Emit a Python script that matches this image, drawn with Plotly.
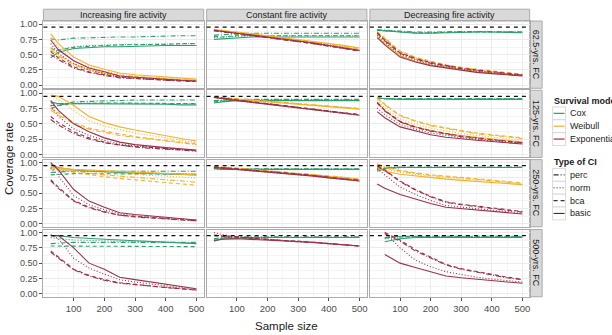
import plotly.graph_objects as go

W, H = 612, 335
FONT = "Liberation Sans"

SAMPLE_SIZE = [25, 50, 100, 150, 200, 250, 300, 350, 400, 450, 500]
NOMINAL = 0.95
TRENDS = ["Increasing fire activity", "Constant fire activity", "Decreasing fire activity"]
CYCLES = ["62.5-yrs. FC", "125-yrs. FC", "250-yrs. FC", "500-yrs. FC"]
MODELS = ["Cox", "Weibull", "Exponential"]
CI_TYPES = ["perc", "norm", "bca", "basic"]
Y_TICKS = [0, 0.25, 0.5, 0.75, 1.0]
X_TICKS = [100, 200, 300, 400, 500]

# ---------------- coverage rates ----------------
# 62.5-yrs FC
INC_62_COX = {"perc": [0.76, 0.74, 0.77, 0.78, 0.79, 0.79, 0.79, 0.80, 0.80, 0.81, 0.81],
              "norm": [0.55, 0.58, 0.63, 0.65, 0.66, 0.66, 0.67, 0.67, 0.67, 0.68, 0.68],
              "bca": [0.60, 0.57, 0.62, 0.64, 0.65, 0.66, 0.66, 0.67, 0.67, 0.68, 0.68],
              "basic": [0.45, 0.54, 0.60, 0.62, 0.63, 0.63, 0.64, 0.64, 0.65, 0.65, 0.65]}
INC_62_WEI = {"perc": [0.58, 0.48, 0.33, 0.25, 0.19, 0.15, 0.13, 0.11, 0.10, 0.09, 0.08],
              "norm": [0.78, 0.62, 0.40, 0.30, 0.23, 0.18, 0.15, 0.13, 0.12, 0.10, 0.09],
              "bca": [0.62, 0.50, 0.35, 0.26, 0.20, 0.16, 0.14, 0.12, 0.10, 0.09, 0.08],
              "basic": [0.84, 0.68, 0.46, 0.33, 0.26, 0.20, 0.17, 0.15, 0.13, 0.11, 0.10]}
INC_62_EXP = {"perc": [0.50, 0.42, 0.28, 0.21, 0.16, 0.12, 0.11, 0.09, 0.08, 0.07, 0.06],
              "norm": [0.68, 0.52, 0.35, 0.25, 0.19, 0.14, 0.12, 0.10, 0.09, 0.08, 0.07],
              "bca": [0.55, 0.45, 0.30, 0.22, 0.17, 0.13, 0.11, 0.10, 0.08, 0.07, 0.06],
              "basic": [0.74, 0.58, 0.40, 0.28, 0.22, 0.15, 0.13, 0.11, 0.10, 0.08, 0.07]}
CON_62_COX = {"perc": [0.82, 0.83, 0.84, 0.85, 0.85, 0.85, 0.85, 0.85, 0.85, 0.85, 0.85],
              "norm": [0.78, 0.79, 0.80, 0.81, 0.81, 0.81, 0.81, 0.81, 0.81, 0.81, 0.81],
              "bca": [0.80, 0.79, 0.81, 0.81, 0.81, 0.81, 0.81, 0.81, 0.81, 0.81, 0.81],
              "basic": [0.75, 0.76, 0.78, 0.79, 0.79, 0.79, 0.79, 0.79, 0.79, 0.79, 0.79]}
CON_62_WEI = {"perc": [0.90, 0.89, 0.86, 0.83, 0.80, 0.77, 0.74, 0.71, 0.68, 0.64, 0.60],
              "norm": [0.90, 0.89, 0.87, 0.84, 0.81, 0.78, 0.75, 0.72, 0.69, 0.65, 0.61],
              "bca": [0.91, 0.90, 0.86, 0.83, 0.80, 0.77, 0.74, 0.71, 0.67, 0.63, 0.59],
              "basic": [0.91, 0.90, 0.87, 0.84, 0.81, 0.78, 0.75, 0.72, 0.69, 0.65, 0.61]}
CON_62_EXP = {"perc": [0.89, 0.87, 0.84, 0.81, 0.78, 0.75, 0.71, 0.68, 0.64, 0.60, 0.56],
              "norm": [0.90, 0.88, 0.85, 0.82, 0.79, 0.76, 0.72, 0.69, 0.65, 0.61, 0.57],
              "bca": [0.90, 0.88, 0.84, 0.81, 0.78, 0.75, 0.71, 0.68, 0.64, 0.60, 0.56],
              "basic": [0.90, 0.88, 0.85, 0.82, 0.79, 0.76, 0.72, 0.69, 0.65, 0.61, 0.57]}
DEC_62_COX = {"perc": [0.91, 0.90, 0.88, 0.87, 0.87, 0.88, 0.88, 0.88, 0.88, 0.88, 0.87],
              "norm": [0.90, 0.89, 0.87, 0.86, 0.86, 0.87, 0.87, 0.87, 0.87, 0.87, 0.87],
              "bca": [0.90, 0.89, 0.87, 0.86, 0.86, 0.87, 0.87, 0.87, 0.87, 0.87, 0.87],
              "basic": [0.90, 0.89, 0.87, 0.85, 0.85, 0.86, 0.87, 0.87, 0.87, 0.87, 0.86]}
DEC_62_WEI = {"perc": [0.87, 0.76, 0.55, 0.45, 0.38, 0.33, 0.29, 0.25, 0.22, 0.20, 0.17],
              "norm": [0.84, 0.72, 0.52, 0.43, 0.36, 0.31, 0.27, 0.24, 0.21, 0.19, 0.17],
              "bca": [0.88, 0.77, 0.56, 0.46, 0.39, 0.33, 0.29, 0.26, 0.23, 0.20, 0.18],
              "basic": [0.80, 0.68, 0.48, 0.39, 0.33, 0.29, 0.25, 0.22, 0.20, 0.18, 0.16]}
DEC_62_EXP = {"perc": [0.85, 0.73, 0.52, 0.43, 0.36, 0.31, 0.27, 0.24, 0.21, 0.19, 0.16],
              "norm": [0.82, 0.70, 0.50, 0.41, 0.34, 0.30, 0.26, 0.23, 0.20, 0.18, 0.16],
              "bca": [0.86, 0.74, 0.53, 0.44, 0.37, 0.32, 0.28, 0.25, 0.22, 0.19, 0.17],
              "basic": [0.78, 0.66, 0.46, 0.38, 0.32, 0.28, 0.24, 0.21, 0.19, 0.17, 0.15]}
# 125-yrs FC
INC_125_COX = {"perc": [0.75, 0.80, 0.86, 0.87, 0.88, 0.88, 0.89, 0.89, 0.89, 0.89, 0.89],
               "norm": [0.83, 0.82, 0.84, 0.84, 0.84, 0.84, 0.84, 0.84, 0.84, 0.83, 0.83],
               "bca": [0.80, 0.80, 0.83, 0.84, 0.84, 0.84, 0.84, 0.84, 0.84, 0.83, 0.83],
               "basic": [0.86, 0.83, 0.83, 0.83, 0.83, 0.82, 0.82, 0.82, 0.82, 0.81, 0.81]}
INC_125_WEI = {"perc": [0.72, 0.65, 0.50, 0.41, 0.36, 0.31, 0.28, 0.25, 0.22, 0.19, 0.16],
               "norm": [0.95, 0.90, 0.72, 0.55, 0.46, 0.40, 0.35, 0.31, 0.27, 0.23, 0.19],
               "bca": [0.75, 0.68, 0.52, 0.43, 0.38, 0.33, 0.29, 0.26, 0.23, 0.20, 0.17],
               "basic": [0.97, 0.95, 0.80, 0.62, 0.52, 0.45, 0.40, 0.35, 0.30, 0.26, 0.22]}
INC_125_EXP = {"perc": [0.57, 0.48, 0.34, 0.25, 0.19, 0.15, 0.12, 0.10, 0.09, 0.07, 0.05],
               "norm": [0.80, 0.62, 0.42, 0.31, 0.23, 0.17, 0.14, 0.12, 0.10, 0.08, 0.06],
               "bca": [0.62, 0.52, 0.37, 0.27, 0.20, 0.15, 0.13, 0.11, 0.09, 0.07, 0.06],
               "basic": [0.88, 0.72, 0.50, 0.37, 0.27, 0.20, 0.16, 0.13, 0.11, 0.09, 0.07]}
CON_125_COX = {"perc": [0.88, 0.89, 0.90, 0.90, 0.90, 0.90, 0.90, 0.90, 0.90, 0.90, 0.90],
               "norm": [0.87, 0.88, 0.89, 0.89, 0.89, 0.89, 0.89, 0.89, 0.89, 0.89, 0.89],
               "bca": [0.86, 0.87, 0.89, 0.89, 0.89, 0.89, 0.89, 0.89, 0.89, 0.89, 0.89],
               "basic": [0.84, 0.86, 0.88, 0.88, 0.88, 0.88, 0.88, 0.88, 0.88, 0.88, 0.88]}
CON_125_WEI = {"perc": [0.94, 0.93, 0.91, 0.89, 0.87, 0.85, 0.83, 0.81, 0.79, 0.77, 0.75],
               "norm": [0.93, 0.92, 0.90, 0.88, 0.86, 0.84, 0.82, 0.80, 0.78, 0.76, 0.74],
               "bca": [0.94, 0.93, 0.91, 0.89, 0.87, 0.85, 0.83, 0.81, 0.79, 0.77, 0.75],
               "basic": [0.93, 0.92, 0.90, 0.88, 0.86, 0.84, 0.82, 0.80, 0.78, 0.76, 0.74]}
CON_125_EXP = {"perc": [0.94, 0.92, 0.89, 0.86, 0.83, 0.80, 0.77, 0.74, 0.71, 0.68, 0.65],
               "norm": [0.93, 0.91, 0.88, 0.85, 0.82, 0.79, 0.76, 0.73, 0.70, 0.67, 0.64],
               "bca": [0.94, 0.92, 0.89, 0.86, 0.83, 0.80, 0.77, 0.74, 0.71, 0.68, 0.65],
               "basic": [0.93, 0.91, 0.88, 0.85, 0.82, 0.79, 0.76, 0.73, 0.70, 0.67, 0.64]}
DEC_125_COX = {"perc": [0.92, 0.91, 0.91, 0.91, 0.91, 0.91, 0.91, 0.91, 0.91, 0.91, 0.91],
               "norm": [0.92, 0.91, 0.90, 0.90, 0.90, 0.90, 0.90, 0.90, 0.90, 0.90, 0.90],
               "bca": [0.92, 0.91, 0.91, 0.91, 0.91, 0.91, 0.91, 0.91, 0.91, 0.91, 0.91],
               "basic": [0.93, 0.91, 0.90, 0.90, 0.90, 0.90, 0.90, 0.90, 0.90, 0.90, 0.90]}
DEC_125_WEI = {"perc": [0.92, 0.81, 0.63, 0.54, 0.47, 0.42, 0.38, 0.34, 0.31, 0.28, 0.26],
               "norm": [0.90, 0.76, 0.58, 0.49, 0.43, 0.38, 0.34, 0.31, 0.28, 0.25, 0.23],
               "bca": [0.93, 0.82, 0.64, 0.55, 0.48, 0.43, 0.39, 0.35, 0.32, 0.29, 0.27],
               "basic": [0.86, 0.72, 0.53, 0.45, 0.39, 0.34, 0.31, 0.28, 0.25, 0.22, 0.20]}
DEC_125_EXP = {"perc": [0.84, 0.71, 0.53, 0.44, 0.38, 0.33, 0.29, 0.26, 0.23, 0.21, 0.19],
               "norm": [0.76, 0.65, 0.49, 0.41, 0.35, 0.31, 0.27, 0.24, 0.22, 0.20, 0.18],
               "bca": [0.85, 0.72, 0.54, 0.45, 0.39, 0.34, 0.30, 0.27, 0.24, 0.22, 0.19],
               "basic": [0.70, 0.60, 0.45, 0.38, 0.32, 0.28, 0.25, 0.23, 0.21, 0.19, 0.17]}
# 250-yrs FC
INC_250_COX = {"perc": [0.84, 0.85, 0.86, 0.86, 0.86, 0.86, 0.86, 0.86, 0.86, 0.86, 0.86],
               "norm": [0.90, 0.88, 0.86, 0.85, 0.84, 0.84, 0.83, 0.83, 0.82, 0.82, 0.82],
               "bca": [0.80, 0.81, 0.82, 0.82, 0.82, 0.82, 0.82, 0.82, 0.82, 0.81, 0.81],
               "basic": [0.97, 0.92, 0.88, 0.86, 0.85, 0.84, 0.83, 0.82, 0.81, 0.81, 0.80]}
INC_250_WEI = {"perc": [0.92, 0.90, 0.86, 0.83, 0.80, 0.78, 0.76, 0.74, 0.72, 0.70, 0.68],
               "norm": [0.95, 0.92, 0.88, 0.86, 0.84, 0.82, 0.80, 0.79, 0.78, 0.77, 0.75],
               "bca": [0.90, 0.88, 0.84, 0.80, 0.77, 0.74, 0.72, 0.70, 0.68, 0.66, 0.63],
               "basic": [0.93, 0.91, 0.89, 0.88, 0.87, 0.86, 0.85, 0.84, 0.83, 0.82, 0.80]}
INC_250_EXP = {"perc": [0.70, 0.58, 0.37, 0.26, 0.19, 0.14, 0.11, 0.10, 0.08, 0.06, 0.05],
               "norm": [0.92, 0.78, 0.46, 0.31, 0.23, 0.16, 0.13, 0.11, 0.09, 0.08, 0.06],
               "bca": [0.72, 0.60, 0.38, 0.27, 0.20, 0.14, 0.12, 0.10, 0.08, 0.07, 0.05],
               "basic": [1.00, 0.88, 0.56, 0.37, 0.27, 0.18, 0.15, 0.13, 0.11, 0.09, 0.06]}
CON_250_COX = {"perc": [0.91, 0.90, 0.90, 0.90, 0.90, 0.90, 0.90, 0.90, 0.90, 0.90, 0.90],
               "norm": [0.90, 0.89, 0.89, 0.89, 0.89, 0.89, 0.89, 0.89, 0.89, 0.89, 0.89],
               "bca": [0.91, 0.90, 0.89, 0.89, 0.89, 0.89, 0.89, 0.89, 0.89, 0.89, 0.89],
               "basic": [0.90, 0.89, 0.89, 0.89, 0.89, 0.89, 0.89, 0.89, 0.89, 0.89, 0.89]}
CON_250_WEI = {"perc": [0.94, 0.93, 0.91, 0.89, 0.87, 0.85, 0.83, 0.81, 0.78, 0.76, 0.73],
               "norm": [0.93, 0.92, 0.90, 0.88, 0.86, 0.84, 0.82, 0.80, 0.77, 0.75, 0.72],
               "bca": [0.95, 0.93, 0.91, 0.89, 0.87, 0.85, 0.83, 0.81, 0.78, 0.76, 0.73],
               "basic": [0.93, 0.92, 0.90, 0.88, 0.86, 0.84, 0.82, 0.80, 0.77, 0.75, 0.72]}
CON_250_EXP = {"perc": [0.93, 0.92, 0.90, 0.88, 0.86, 0.84, 0.81, 0.79, 0.76, 0.74, 0.71],
               "norm": [0.92, 0.91, 0.89, 0.87, 0.85, 0.83, 0.80, 0.78, 0.75, 0.73, 0.70],
               "bca": [0.93, 0.92, 0.90, 0.88, 0.86, 0.84, 0.81, 0.79, 0.76, 0.74, 0.71],
               "basic": [0.92, 0.91, 0.89, 0.87, 0.85, 0.83, 0.80, 0.78, 0.75, 0.73, 0.70]}
DEC_250_COX = {"perc": [0.90, 0.92, 0.93, 0.93, 0.93, 0.93, 0.93, 0.93, 0.93, 0.93, 0.93],
               "norm": [0.88, 0.91, 0.92, 0.92, 0.92, 0.92, 0.92, 0.92, 0.92, 0.92, 0.92],
               "bca": [0.89, 0.91, 0.92, 0.92, 0.92, 0.92, 0.92, 0.92, 0.92, 0.92, 0.92],
               "basic": [0.86, 0.90, 0.92, 0.92, 0.92, 0.92, 0.92, 0.92, 0.92, 0.92, 0.92]}
DEC_250_WEI = {"perc": [0.97, 0.92, 0.86, 0.82, 0.79, 0.77, 0.75, 0.73, 0.71, 0.69, 0.66],
               "norm": [0.95, 0.89, 0.84, 0.80, 0.77, 0.75, 0.73, 0.71, 0.69, 0.67, 0.65],
               "bca": [0.98, 0.93, 0.87, 0.83, 0.80, 0.78, 0.76, 0.74, 0.72, 0.70, 0.67],
               "basic": [0.92, 0.86, 0.81, 0.78, 0.75, 0.73, 0.71, 0.69, 0.67, 0.66, 0.64]}
DEC_250_EXP = {"perc": [0.94, 0.87, 0.69, 0.55, 0.44, 0.35, 0.31, 0.28, 0.25, 0.22, 0.19],
               "norm": [0.90, 0.80, 0.60, 0.48, 0.38, 0.30, 0.27, 0.25, 0.22, 0.20, 0.17],
               "bca": [0.95, 0.88, 0.70, 0.56, 0.45, 0.36, 0.32, 0.29, 0.26, 0.23, 0.20],
               "basic": [0.65, 0.58, 0.48, 0.40, 0.33, 0.27, 0.25, 0.23, 0.21, 0.19, 0.16]}
# 500-yrs FC (no Weibull curves visible)
INC_500_COX = {"perc": [0.82, 0.83, 0.84, 0.84, 0.84, 0.84, 0.84, 0.84, 0.84, 0.84, 0.84],
               "norm": [0.92, 0.90, 0.88, 0.87, 0.86, 0.86, 0.85, 0.85, 0.84, 0.84, 0.83],
               "bca": [0.78, 0.78, 0.78, 0.78, 0.78, 0.78, 0.78, 0.78, 0.78, 0.77, 0.77],
               "basic": [0.95, 0.95, 0.92, 0.90, 0.89, 0.88, 0.87, 0.86, 0.85, 0.84, 0.82]}
INC_500_EXP = {"perc": [0.68, 0.58, 0.39, 0.29, 0.22, 0.17, 0.15, 0.12, 0.10, 0.08, 0.06],
               "norm": [0.97, 0.90, 0.58, 0.42, 0.32, 0.23, 0.19, 0.16, 0.13, 0.10, 0.07],
               "bca": [0.70, 0.60, 0.40, 0.30, 0.23, 0.18, 0.15, 0.13, 0.10, 0.08, 0.06],
               "basic": [0.95, 0.95, 0.75, 0.50, 0.40, 0.27, 0.23, 0.19, 0.15, 0.12, 0.08]}
CON_500_COX = {"perc": [0.90, 0.92, 0.93, 0.93, 0.93, 0.93, 0.93, 0.93, 0.93, 0.93, 0.93],
               "norm": [0.88, 0.91, 0.92, 0.92, 0.92, 0.92, 0.92, 0.92, 0.92, 0.92, 0.92],
               "bca": [0.89, 0.91, 0.92, 0.92, 0.92, 0.92, 0.92, 0.92, 0.92, 0.92, 0.92],
               "basic": [0.86, 0.89, 0.91, 0.92, 0.92, 0.92, 0.92, 0.92, 0.92, 0.92, 0.92]}
CON_500_EXP = {"perc": [0.96, 0.95, 0.92, 0.90, 0.89, 0.87, 0.85, 0.84, 0.82, 0.80, 0.78],
               "norm": [1.00, 0.97, 0.93, 0.91, 0.89, 0.87, 0.86, 0.84, 0.82, 0.80, 0.78],
               "bca": [0.95, 0.94, 0.92, 0.90, 0.89, 0.87, 0.86, 0.84, 0.82, 0.80, 0.78],
               "basic": [0.87, 0.89, 0.90, 0.89, 0.88, 0.87, 0.85, 0.84, 0.82, 0.80, 0.78]}
DEC_500_COX = {"perc": [None, 0.92, 0.94, 0.94, 0.94, 0.94, 0.94, 0.94, 0.94, 0.94, 0.94],
               "norm": [None, 0.90, 0.93, 0.93, 0.93, 0.93, 0.93, 0.93, 0.93, 0.93, 0.93],
               "bca": [None, 0.91, 0.93, 0.93, 0.93, 0.93, 0.93, 0.93, 0.93, 0.93, 0.93],
               "basic": [None, 0.85, 0.90, 0.92, 0.92, 0.92, 0.92, 0.92, 0.92, 0.92, 0.92]}
DEC_500_EXP = {"perc": [None, 0.98, 0.86, 0.70, 0.58, 0.47, 0.40, 0.35, 0.30, 0.26, 0.23],
               "norm": [None, 1.00, 0.75, 0.55, 0.44, 0.36, 0.31, 0.27, 0.24, 0.21, 0.19],
               "bca": [None, 1.00, 0.88, 0.72, 0.60, 0.48, 0.41, 0.36, 0.31, 0.27, 0.24],
               "basic": [None, 0.64, 0.50, 0.43, 0.36, 0.29, 0.26, 0.24, 0.21, 0.19, 0.17]}

PANELS = [
    [{"Cox": INC_62_COX, "Weibull": INC_62_WEI, "Exponential": INC_62_EXP},
     {"Cox": CON_62_COX, "Weibull": CON_62_WEI, "Exponential": CON_62_EXP},
     {"Cox": DEC_62_COX, "Weibull": DEC_62_WEI, "Exponential": DEC_62_EXP}],
    [{"Cox": INC_125_COX, "Weibull": INC_125_WEI, "Exponential": INC_125_EXP},
     {"Cox": CON_125_COX, "Weibull": CON_125_WEI, "Exponential": CON_125_EXP},
     {"Cox": DEC_125_COX, "Weibull": DEC_125_WEI, "Exponential": DEC_125_EXP}],
    [{"Cox": INC_250_COX, "Weibull": INC_250_WEI, "Exponential": INC_250_EXP},
     {"Cox": CON_250_COX, "Weibull": CON_250_WEI, "Exponential": CON_250_EXP},
     {"Cox": DEC_250_COX, "Weibull": DEC_250_WEI, "Exponential": DEC_250_EXP}],
    [{"Cox": INC_500_COX, "Exponential": INC_500_EXP},
     {"Cox": CON_500_COX, "Exponential": CON_500_EXP},
     {"Cox": DEC_500_COX, "Exponential": DEC_500_EXP}],
]

COLORS = {"Cox": "#2E9E6E", "Weibull": "#F2B22C", "Exponential": "#9A3149"}
DASH = {"perc": "5px,2px,1px,2px", "norm": "1px,2px", "bca": "4px,3px", "basic": "solid"}

# ---------------- layout geometry (pixels) ----------------
COLS = [(43.5, 204.0), (207.0, 367.5), (370.5, 530.5)]
ROWS = [(19.3, 87.3), (89.3, 157.3), (159.5, 227.5), (230.3, 298.3)]
STRIP_TOP = (7.3, 19.3)
STRIP_RIGHT = (530.5, 543.0)

def px(x):
    return x / W

def py(y):
    return 1 - y / H

fig = go.Figure()
layout = dict(width=W, height=H, margin=dict(l=0, r=0, t=0, b=0),
              paper_bgcolor="white", plot_bgcolor="white", showlegend=False,
              font=dict(family=FONT, color="#333333"))
shapes = []
annotations = []

for r in range(4):
    for c in range(3):
        k = r * 3 + c + 1
        xa = "x" if k == 1 else f"x{k}"
        ya = "y" if k == 1 else f"y{k}"
        panel = PANELS[r][c]
        for m in MODELS:
            if m not in panel:
                continue
            for ci in CI_TYPES:
                fig.add_trace(go.Scatter(
                    x=SAMPLE_SIZE, y=panel[m][ci], mode="lines", xaxis=xa, yaxis=ya,
                    line=dict(color=COLORS[m], width=1.1, dash=DASH[ci]),
                    connectgaps=False, hoverinfo="skip"))
        bottom = r == 3
        left = c == 0
        layout[f"xaxis{'' if k == 1 else k}"] = dict(
            domain=[px(COLS[c][0]), px(COLS[c][1])], anchor=ya, range=[1.25, 523.75],
            tickvals=X_TICKS, ticktext=[str(v) for v in X_TICKS],
            showticklabels=bottom, ticks="outside" if bottom else "", ticklen=3,
            tickcolor="#4D4D4D", tickwidth=0.8,
            tickfont=dict(size=9.5, color="#4D4D4D", family=FONT),
            showgrid=True, gridcolor="#EBEBEB", gridwidth=0.9,
            minor=dict(tickvals=[50, 150, 250, 350, 450], showgrid=True,
                       gridcolor="#F4F4F4", gridwidth=0.6),
            showline=True, mirror=True, linecolor="#ABABAB", linewidth=1, zeroline=False)
        layout[f"yaxis{'' if k == 1 else k}"] = dict(
            domain=[py(ROWS[r][1]), py(ROWS[r][0])], anchor=xa, range=[-0.05, 1.05],
            tickvals=Y_TICKS, ticktext=[f"{v:.2f}" for v in Y_TICKS],
            showticklabels=left, ticks="outside" if left else "", ticklen=3,
            tickcolor="#4D4D4D", tickwidth=0.8,
            tickfont=dict(size=9, color="#4D4D4D", family=FONT),
            showgrid=True, gridcolor="#EBEBEB", gridwidth=0.9,
            minor=dict(tickvals=[0.125, 0.375, 0.625, 0.875], showgrid=True,
                       gridcolor="#F4F4F4", gridwidth=0.6),
            showline=True, mirror=True, linecolor="#ABABAB", linewidth=1, zeroline=False)
        # nominal 95% coverage reference line
        shapes.append(dict(type="line", xref=f"{xa} domain", yref=ya, x0=0, x1=1,
                           y0=NOMINAL, y1=NOMINAL,
                           line=dict(color="#111111", width=1.3, dash="4px,4px")))

# top strips
for c, label in enumerate(TRENDS):
    shapes.append(dict(type="rect", xref="paper", yref="paper",
                       x0=px(COLS[c][0]), x1=px(COLS[c][1]), y0=py(STRIP_TOP[1]), y1=py(STRIP_TOP[0]),
                       fillcolor="#D9D9D9", line=dict(color="#ABABAB", width=1), layer="below"))
    annotations.append(dict(xref="paper", yref="paper", x=px((COLS[c][0] + COLS[c][1]) / 2),
                            y=py((STRIP_TOP[0] + STRIP_TOP[1]) / 2), text=label, showarrow=False,
                            xanchor="center", yanchor="middle",
                            font=dict(size=9, color="#1A1A1A", family=FONT)))
# right strips
for r, label in enumerate(CYCLES):
    shapes.append(dict(type="rect", xref="paper", yref="paper",
                       x0=px(STRIP_RIGHT[0]), x1=px(STRIP_RIGHT[1]), y0=py(ROWS[r][1]), y1=py(ROWS[r][0]),
                       fillcolor="#D9D9D9", line=dict(color="#ABABAB", width=1), layer="below"))
    annotations.append(dict(xref="paper", yref="paper", x=px((STRIP_RIGHT[0] + STRIP_RIGHT[1]) / 2),
                            y=py((ROWS[r][0] + ROWS[r][1]) / 2), text=label, showarrow=False,
                            textangle=90, xanchor="center", yanchor="middle",
                            font=dict(size=9, color="#1A1A1A", family=FONT)))

# axis titles
annotations.append(dict(xref="paper", yref="paper", x=px(287), y=py(328), text="Sample size",
                        showarrow=False, xanchor="center", yanchor="middle",
                        font=dict(size=11.5, color="#1A1A1A", family=FONT)))
annotations.append(dict(xref="paper", yref="paper", x=px(9), y=py(158), text="Coverage rate",
                        showarrow=False, textangle=-90, xanchor="center", yanchor="middle",
                        font=dict(size=11.5, color="#1A1A1A", family=FONT)))

# manual legend
LEG_X0, LEG_X1, LEG_TX = 553.5, 566.5, 568.5
annotations.append(dict(xref="paper", yref="paper", x=px(553), y=py(100), text="<b>Survival model</b>",
                        showarrow=False, xanchor="left", yanchor="middle",
                        font=dict(size=9, color="#1A1A1A", family=FONT)))
for i, m in enumerate(MODELS):
    yc = 112.7 + 13 * i
    shapes.append(dict(type="rect", xref="paper", yref="paper", x0=px(LEG_X0), x1=px(LEG_X1),
                       y0=py(yc + 6.5), y1=py(yc - 6.5), fillcolor="white",
                       line=dict(color="#D0D0D0", width=0.8)))
    shapes.append(dict(type="line", xref="paper", yref="paper", x0=px(LEG_X0 + 1), x1=px(LEG_X1 - 1),
                       y0=py(yc), y1=py(yc), line=dict(color=COLORS[m], width=1.2)))
    annotations.append(dict(xref="paper", yref="paper", x=px(LEG_TX), y=py(yc), text=m,
                            showarrow=False, xanchor="left", yanchor="middle",
                            font=dict(size=9, color="#1A1A1A", family=FONT)))
annotations.append(dict(xref="paper", yref="paper", x=px(553), y=py(161.5), text="<b>Type of CI</b>",
                        showarrow=False, xanchor="left", yanchor="middle",
                        font=dict(size=9, color="#1A1A1A", family=FONT)))
for i, ci in enumerate(CI_TYPES):
    yc = 175 + 13 * i
    shapes.append(dict(type="rect", xref="paper", yref="paper", x0=px(LEG_X0), x1=px(LEG_X1),
                       y0=py(yc + 6.5), y1=py(yc - 6.5), fillcolor="white",
                       line=dict(color="#D0D0D0", width=0.8)))
    shapes.append(dict(type="line", xref="paper", yref="paper", x0=px(LEG_X0 + 1), x1=px(LEG_X1 - 1),
                       y0=py(yc), y1=py(yc), line=dict(color="#333333", width=1.1, dash=DASH[ci])))
    annotations.append(dict(xref="paper", yref="paper", x=px(LEG_TX), y=py(yc), text=ci,
                            showarrow=False, xanchor="left", yanchor="middle",
                            font=dict(size=9, color="#1A1A1A", family=FONT)))

layout["shapes"] = shapes
layout["annotations"] = annotations
fig.update_layout(**layout)
fig.write_html("out.html")
